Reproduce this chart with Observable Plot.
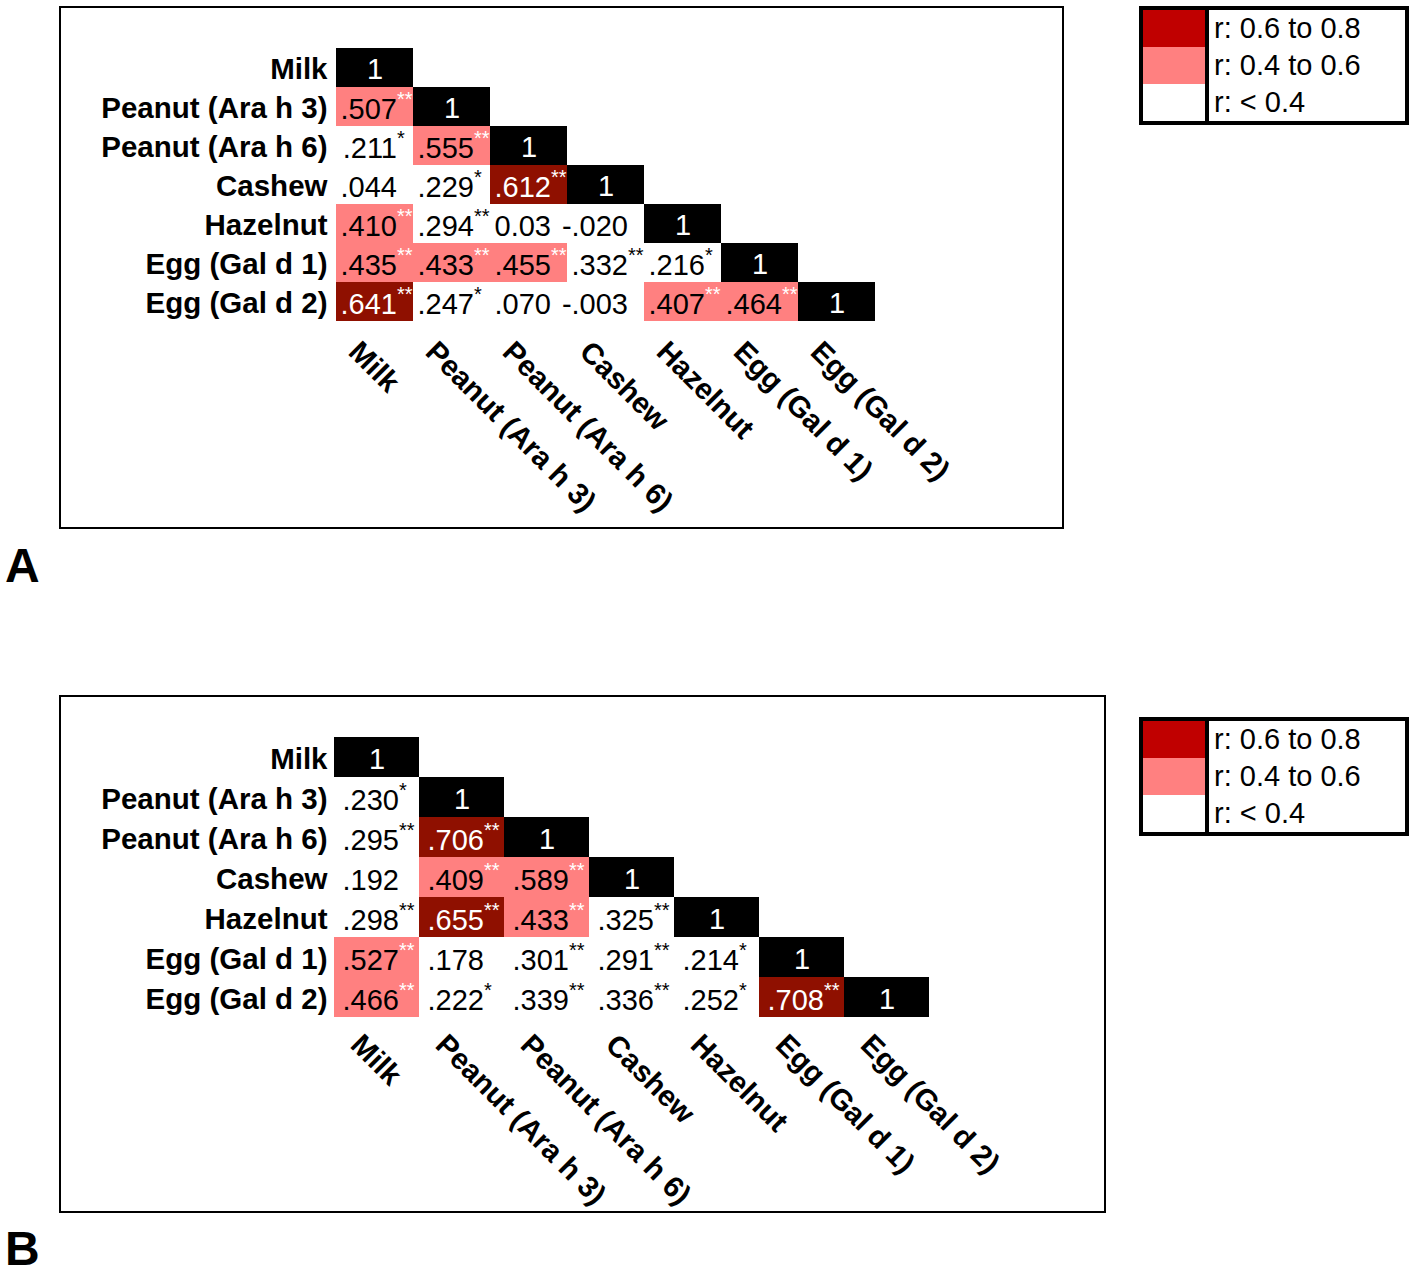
<!DOCTYPE html>
<html>
<head>
<meta charset="utf-8">
<script src="https://cdn.jsdelivr.net/npm/d3@7"></script>
<script src="https://cdn.jsdelivr.net/npm/@observablehq/plot@0.6"></script>
<style>
  html, body { margin: 0; padding: 0; background: #fff; }
  #root { position: relative; width: 1416px; height: 1277px; background: #fff; font-family: "Liberation Sans", Arial, sans-serif; overflow: hidden; }
  .abs { position: absolute; }
  .frame { position: absolute; border: 2px solid #000; box-sizing: border-box; pointer-events: none; }
  .letter { position: absolute; font-weight: bold; font-size: 48px; line-height: 0.8; }
  .legend { position: absolute; width: 270px; height: 119px; border: 4px solid #000; box-sizing: border-box; display: flex; background: #fff; }
  .legend .sw { width: 62px; border-right: 4px solid #000; display: flex; flex-direction: column; }
  .legend .lab { flex: 1; display: flex; flex-direction: column; padding-left: 5px; font-size: 29px; }
  .legend .lab div { flex: 1; display: flex; align-items: center; }
</style>
</head>
<body>
<div id="root"></div>
<script>
// ---------- data ----------
const foods = ["Milk", "Peanut (Ara h 3)", "Peanut (Ara h 6)", "Cashew", "Hazelnut", "Egg (Gal d 1)", "Egg (Gal d 2)"];

const valuesA = [
  [],
  [".507"],
  [".211", ".555"],
  [".044", ".229", ".612"],
  [".410", ".294", "0.03", "-.020"],
  [".435", ".433", ".455", ".332", ".216"],
  [".641", ".247", ".070", "-.003", ".407", ".464"]
];
const sigA = [
  [],
  ["**"],
  ["*", "**"],
  ["", "*", "**"],
  ["**", "**", "", ""],
  ["**", "**", "**", "**", "*"],
  ["**", "*", "", "", "**", "**"]
];

const valuesB = [
  [],
  [".230"],
  [".295", ".706"],
  [".192", ".409", ".589"],
  [".298", ".655", ".433", ".325"],
  [".527", ".178", ".301", ".291", ".214"],
  [".466", ".222", ".339", ".336", ".252", ".708"]
];
const sigB = [
  [],
  ["*"],
  ["**", "**"],
  ["", "**", "**"],
  ["**", "**", "**", "**"],
  ["**", "", "**", "**", "*"],
  ["**", "*", "**", "**", "*", "**"]
];

const legendLabels = ["r: 0.6 to 0.8", "r: 0.4 to 0.6", "r: < 0.4"];
const panelLetters = ["A", "B"];

// ---------- styles ----------
const cellFill = { diag: "#000000", high: "#8f1000", mid: "#ff8080", low: "#ffffff" };
const legendFill = ["#c00000", "#ff8080", "#ffffff"];
const FONT = '"Liberation Sans", Arial, sans-serif';

function buildTable(values, sig) {
  const t = [];
  foods.forEach((row, i) => {
    for (let j = 0; j <= i; j++) {
      if (j === i) t.push({ row, col: foods[j], label: "1", sig: "", cat: "diag" });
      else {
        const v = +values[i][j];
        t.push({ row, col: foods[j], label: values[i][j], sig: sig[i][j],
                 cat: v >= 0.6 ? "high" : v >= 0.4 ? "mid" : "low" });
      }
    }
  });
  return t;
}

function panel(values, sig, dims) {
  const table = buildTable(values, sig);
  return Plot.plot({
    width: dims.width, height: dims.height,
    marginLeft: dims.ml, marginRight: dims.mr, marginTop: dims.mt, marginBottom: dims.mb,
    style: { background: "transparent", fontFamily: FONT, overflow: "visible", maxWidth: "none" },
    x: { type: "band", domain: foods, padding: 0, axis: null },
    y: { type: "band", domain: foods, padding: 0, axis: null },
    color: { type: "identity" },
    marks: [
      Plot.cell(table, { x: "col", y: "row", fill: d => cellFill[d.cat], inset: 0 }),
      Plot.text(table.filter(d => d.cat === "diag"), { x: "col", y: "row", text: "label", fill: "white", fontSize: 29, dy: 2 }),
      Plot.text(table.filter(d => d.cat !== "diag"), { x: "col", y: "row", text: "label", textAnchor: "end", dx: 22, dy: 3, fontSize: 29,
        fill: d => d.cat === "high" ? "white" : "black" }),
      Plot.text(table.filter(d => d.sig), { x: "col", y: "row", text: "sig", textAnchor: "start", dx: 22, dy: -7, fontSize: 20,
        fill: d => d.cat === "low" ? "black" : "white" }),
      Plot.text(foods, { y: d => d, frameAnchor: "left", textAnchor: "end", dx: -6, dy: 2, fontWeight: "bold", fontSize: 29.5, fill: "black" }),
      Plot.text(foods, { x: d => d, frameAnchor: "bottom", textAnchor: "start", rotate: 45, dx: -28, dy: 29, fontWeight: "bold", fontSize: 29.5, fill: "black" })
    ]
  });
}

const root = document.getElementById("root");

function addPanel(values, sig, dims, letter) {
  const svg = panel(values, sig, dims);
  const holder = document.createElement("div");
  holder.className = "abs";
  holder.style.left = dims.left + "px";
  holder.style.top = dims.top + "px";
  holder.appendChild(svg);
  root.appendChild(holder);

  const fr = document.createElement("div");
  fr.className = "frame";
  fr.style.left = (dims.left - 1) + "px";
  fr.style.top = (dims.top - 1) + "px";
  fr.style.width = (dims.width + 2) + "px";
  fr.style.height = (dims.height + 2) + "px";
  root.appendChild(fr);

  const lg = document.createElement("div");
  lg.className = "legend";
  lg.style.left = "1139px";
  lg.style.top = dims.legendTop + "px";
  const sw = document.createElement("div");
  sw.className = "sw";
  const lab = document.createElement("div");
  lab.className = "lab";
  legendLabels.forEach((t, i) => {
    const s = document.createElement("div");
    s.style.flex = "1";
    s.style.background = legendFill[i];
    sw.appendChild(s);
    const l = document.createElement("div");
    l.textContent = t;
    lab.appendChild(l);
  });
  lg.appendChild(sw);
  lg.appendChild(lab);
  root.appendChild(lg);

  const L = document.createElement("div");
  L.className = "letter";
  L.textContent = letter;
  L.style.left = "5px";
  L.style.top = dims.letterTop + "px";
  root.appendChild(L);
}

addPanel(valuesA, sigA, { left: 60, top: 7, width: 1003, height: 521, ml: 273, mr: 185, mt: 38, mb: 204, legendTop: 6, letterTop: 547 }, panelLetters[0]);
addPanel(valuesB, sigB, { left: 60, top: 696, width: 1045, height: 516, ml: 273, mr: 175, mt: 41, mb: 195, legendTop: 717, letterTop: 1230 }, panelLetters[1]);
</script>
</body>
</html>
